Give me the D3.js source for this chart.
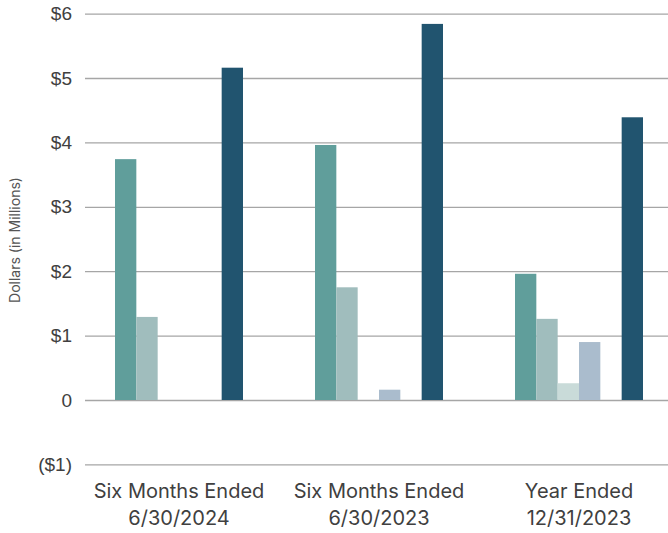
<!DOCTYPE html>
<html>
<head>
<meta charset="utf-8">
<script src="https://cdn.jsdelivr.net/npm/d3@7"></script>
<style>
  body { margin: 0; background: #fff; }
  svg { display: block; font-family: Inter, "Liberation Sans", sans-serif; }
</style>
</head>
<body>
<div id="chart"></div>
<script>
const categories = ["Six Months Ended|6/30/2024", "Six Months Ended|6/30/2023", "Year Ended|12/31/2023"];
const seriesNames = ["A", "B", "C", "D", "E", "F"];
const seriesA = [3.74, 3.96, 1.96];
const seriesB = [1.29, 1.75, 1.26];
const seriesC = [0, 0, 0.26];
const seriesD = [0, 0.16, 0.90];
const seriesE = [0, 0, 0];
const seriesF = [5.16, 5.84, 4.39];
const yTicks = [-1, 0, 1, 2, 3, 4, 5, 6];
const colors = ["#609e9b", "#a0bdbd", "#c9dbd9", "#aabccd", "#7f9fb5", "#21546f"];

const width = 668, height = 533;
const seriesValues = [seriesA, seriesB, seriesC, seriesD, seriesE, seriesF];

const rows = categories.map((c, i) => ({
    cat: c,
    vals: seriesNames.map((s, j) => ({ key: s, value: seriesValues[j][i] }))
}));

const svg = d3.select("#chart")
    .append("svg")
    .attr("width", width)
    .attr("height", height);

const x0 = d3.scaleBand()
    .domain(categories)
    .range([79, 679])
    .padding(0);

const x1 = d3.scaleBand()
    .domain(seriesNames)
    .range([36, 164]);

const y = d3.scaleLinear()
    .domain([-1, 6])
    .range([464.4, 13.6]);

const fmt = d => d === 0 ? "0" : d < 0 ? `($${Math.abs(d)})` : `$${d}`;

// grid + y labels
svg.append("g")
    .attr("transform", "translate(85,0)")
    .call(d3.axisLeft(y).tickValues(yTicks).tickFormat(fmt)
        .tickSize(-(width - 85)).tickPadding(13))
    .call(g => g.select(".domain").remove())
    .call(g => g.selectAll(".tick line")
        .attr("stroke", "#a6a6a6")
        .attr("stroke-width", 1.3))
    .call(g => g.selectAll(".tick text")
        .attr("fill", "#404040")
        .attr("font-size", 19));

svg.append("text")
    .attr("transform", "translate(20,240) rotate(-90)")
    .attr("text-anchor", "middle")
    .attr("fill", "#555")
    .attr("font-size", 14)
    .text("Dollars (in Millions)");

svg.append("g")
    .selectAll("g")
    .data(rows)
    .join("g")
    .attr("transform", d => `translate(${x0(d.cat)},0)`)
    .selectAll("rect")
    .data(d => d.vals)
    .join("rect")
    .attr("x", d => x1(d.key))
    .attr("width", x1.bandwidth())
    .attr("y", d => y(Math.max(0, d.value)))
    .attr("height", d => Math.abs(y(d.value) - y(0)))
    .attr("fill", (d, i) => colors[i]);

// category labels
const lab = svg.append("g")
    .attr("fill", "#404040")
    .attr("font-size", 20)
    .attr("text-anchor", "middle")
    .selectAll("text")
    .data(categories)
    .join("text")
    .attr("x", d => x0(d) + x0.bandwidth() / 2)
    .attr("y", 498);

lab.selectAll("tspan")
    .data(d => d.split("|"))
    .join("tspan")
    .attr("x", function() { return d3.select(this.parentNode).attr("x"); })
    .attr("dy", (d, i) => i === 0 ? 0 : 26.5)
    .text(d => d);
</script>
</body>
</html>
